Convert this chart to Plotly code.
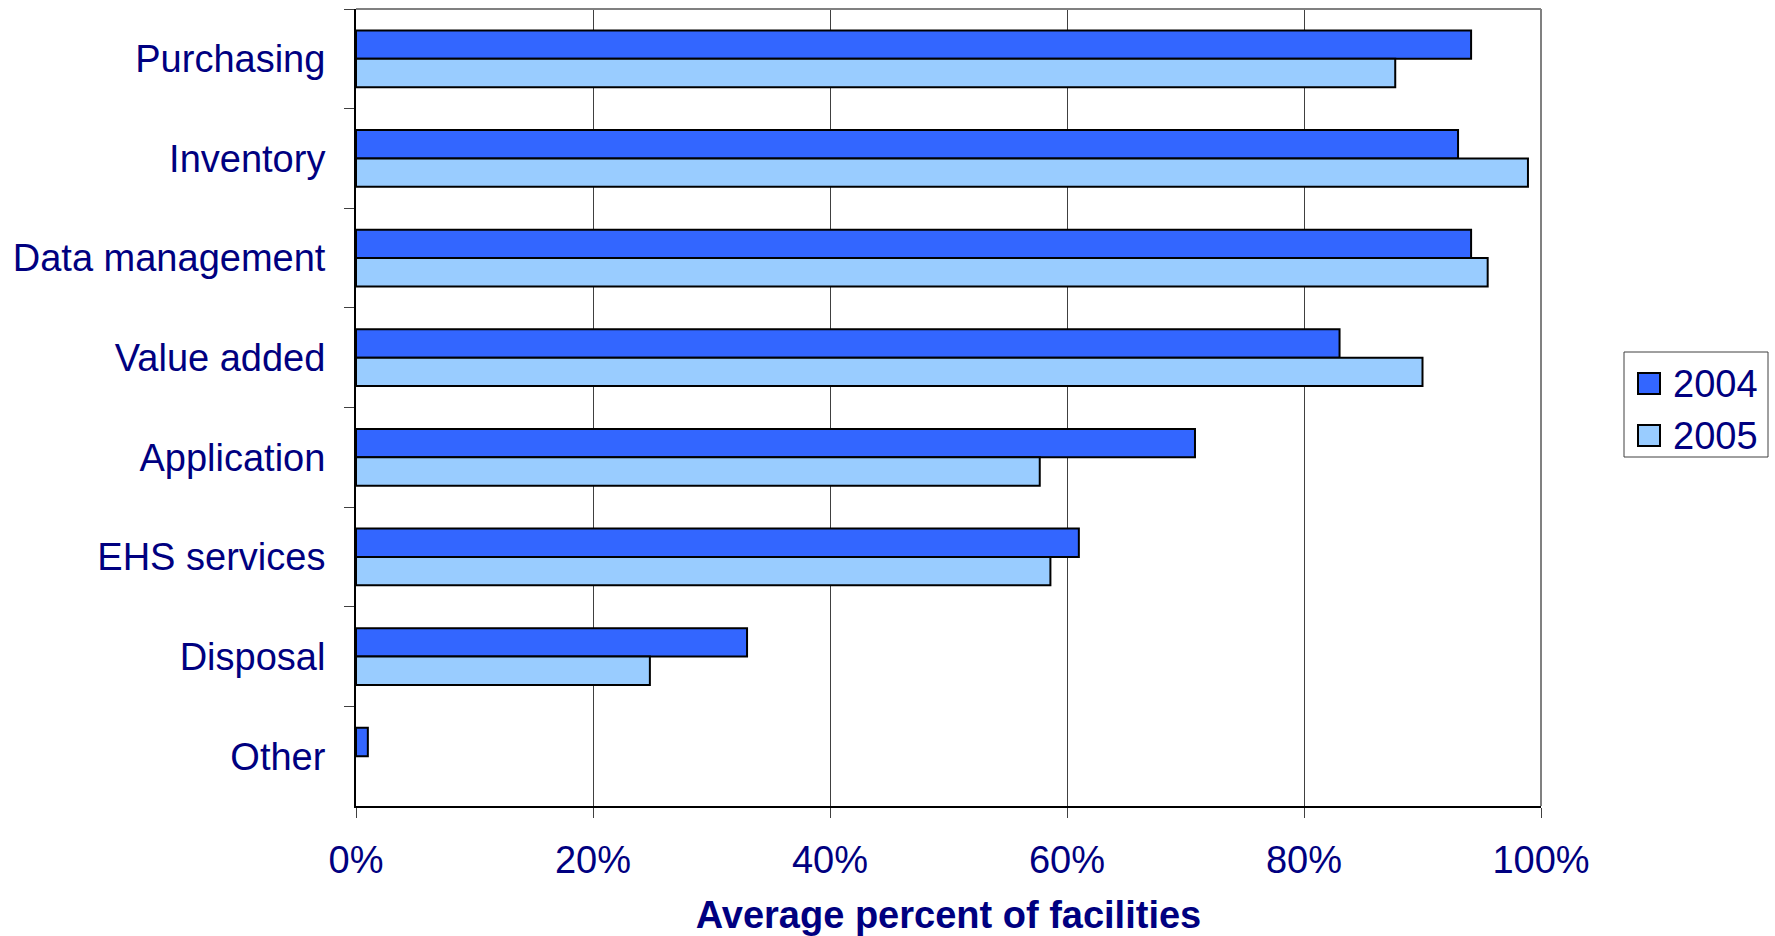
import plotly.graph_objects as go

categories = ["Purchasing", "Inventory", "Data management", "Value added",
              "Application", "EHS services", "Disposal", "Other"]
values_2004 = [0.941, 0.930, 0.941, 0.830, 0.708, 0.610, 0.330, 0.010]
values_2005 = [0.877, 0.989, 0.955, 0.900, 0.577, 0.586, 0.248, 0.0]
series_names = ["2004", "2005"]
series_colors = ["#3366FF", "#99CCFF"]
x_ticks = [0, 0.2, 0.4, 0.6, 0.8, 1.0]
x_tick_labels = ["0%", "20%", "40%", "60%", "80%", "100%"]

NAVY = "#000080"
FONT = "Liberation Sans, Arial, sans-serif"

W, H = 1775, 936
M_L, M_R, M_T, M_B = 356, 234, 9, 130
PLOT_W = W - M_L - M_R
PLOT_H = H - M_T - M_B


def px_to_paper(px, py):
    """Convert page pixel position to paper coordinates."""
    return (px - M_L) / PLOT_W, (H - M_B - py) / PLOT_H


fig = go.Figure()
for name, vals, color in zip(series_names, [values_2004, values_2005], series_colors):
    # no outline on empty bars so nothing is drawn for a zero value
    outline = [2 if v > 0 else 0 for v in vals]
    fig.add_trace(go.Bar(
        y=categories, x=vals, name=name, orientation="h", showlegend=False,
        marker=dict(color=color, line=dict(color="#000000", width=outline)),
    ))

fig.update_layout(
    width=W, height=H,
    margin=dict(l=M_L, r=M_R, t=M_T, b=M_B),
    paper_bgcolor="white", plot_bgcolor="white",
    barmode="group", bargap=0.43, bargroupgap=0,
    font=dict(family=FONT, color=NAVY, size=38),
    showlegend=False,
)

fig.update_xaxes(
    range=[0, 1], tickvals=x_ticks, ticktext=x_tick_labels,
    showgrid=True, gridcolor="#404040", gridwidth=1,
    showline=True, linecolor="#000000", linewidth=2,
    ticks="outside", ticklen=10, tickcolor="#404040", tickwidth=1,
    ticklabelstandoff=9,
    tickfont=dict(family=FONT, size=38, color=NAVY),
    title=dict(text="<b>Average percent of facilities</b>",
               font=dict(family=FONT, size=38, color=NAVY), standoff=25),
    zeroline=False, automargin=False,
)

fig.update_yaxes(
    type="category", categoryorder="array", categoryarray=categories,
    autorange="reversed",
    showgrid=False,
    showline=True, linecolor="#000000", linewidth=2,
    ticks="outside", tickson="boundaries", ticklen=10,
    tickcolor="#404040", tickwidth=1,
    ticklabelstandoff=21,
    tickfont=dict(family=FONT, size=38, color=NAVY),
    automargin=False,
)

# grey frame on the top and right edges of the plot area
fig.add_shape(type="line", xref="paper", yref="paper", x0=0, x1=1, y0=1, y1=1,
              line=dict(color="#808080", width=2))
fig.add_shape(type="line", xref="paper", yref="paper", x0=1, x1=1, y0=0, y1=1,
              line=dict(color="#808080", width=2))

# legend box with large square swatches
bx0, by0 = px_to_paper(1624, 352)
bx1, by1 = px_to_paper(1768, 457)
fig.add_shape(type="rect", xref="paper", yref="paper", x0=bx0, y0=by0, x1=bx1, y1=by1,
              line=dict(color="#404040", width=1), fillcolor="white")
for i, (name, color) in enumerate(zip(series_names, series_colors)):
    top = 373 + i * 52
    sx0, sy0 = px_to_paper(1638, top)
    sx1, sy1 = px_to_paper(1660, top + 21)
    fig.add_shape(type="rect", xref="paper", yref="paper",
                  x0=sx0, y0=sy0, x1=sx1, y1=sy1,
                  line=dict(color="#000000", width=2), fillcolor=color)
    tx, ty = px_to_paper(1671, top + 11)
    fig.add_annotation(x=tx, y=ty, xref="paper", yref="paper", text=name,
                       showarrow=False, xanchor="left", yanchor="middle",
                       font=dict(family=FONT, size=38, color=NAVY))

fig.write_html("out.html")
